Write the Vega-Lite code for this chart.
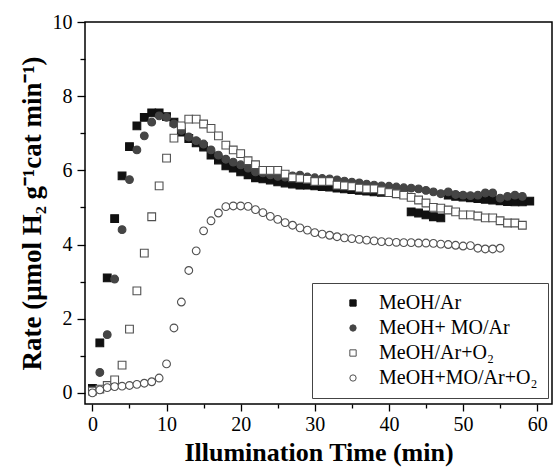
{
  "$schema": "https://vega.github.io/schema/vega-lite/v6.json",
  "width": 467,
  "height": 382,
  "autosize": "none",
  "padding": {"left": 85, "top": 22, "right": 3, "bottom": 64},
  "background": "white",
  "config": {
    "view": {"stroke": "black", "strokeWidth": 1.5},
    "font": "Liberation Serif",
    "axis": {
      "domain": false,
      "grid": false,
      "tickColor": "black",
      "tickWidth": 1.3,
      "labelColor": "black",
      "labelFont": "Liberation Serif",
      "labelFontSize": 20,
      "titleFont": "Liberation Serif",
      "titleFontSize": 26,
      "titleFontWeight": "bold",
      "titleColor": "black"
    },
    "legend": {
      "orient": "none",
      "legendX": 227,
      "legendY": 261,
      "strokeColor": "#444",
      "padding": 10,
      "symbolOffset": 21,
      "labelFont": "Liberation Serif",
      "labelFontSize": 20,
      "labelColor": "black",
      "labelOffset": 16,
      "rowPadding": 5,
      "symbolSize": 40,
      "symbolStrokeWidth": 1,
      "labelLimit": 300
    }
  },
  "data": {
    "values": [
      {"t": 0, "r": 0.12, "s": "MeOH/Ar"}, {"t": 1, "r": 1.35, "s": "MeOH/Ar"}, {"t": 2, "r": 3.1, "s": "MeOH/Ar"}, {"t": 3, "r": 4.7, "s": "MeOH/Ar"}, {"t": 4, "r": 5.85, "s": "MeOH/Ar"}, {"t": 5, "r": 6.64, "s": "MeOH/Ar"}, {"t": 6, "r": 7.2, "s": "MeOH/Ar"}, {"t": 7, "r": 7.43, "s": "MeOH/Ar"}, {"t": 8, "r": 7.55, "s": "MeOH/Ar"}, {"t": 9, "r": 7.55, "s": "MeOH/Ar"}, {"t": 10, "r": 7.45, "s": "MeOH/Ar"}, {"t": 11, "r": 7.3, "s": "MeOH/Ar"}, {"t": 12, "r": 7.03, "s": "MeOH/Ar"}, {"t": 13, "r": 6.86, "s": "MeOH/Ar"}, {"t": 14, "r": 6.74, "s": "MeOH/Ar"}, {"t": 15, "r": 6.63, "s": "MeOH/Ar"}, {"t": 16, "r": 6.41, "s": "MeOH/Ar"}, {"t": 17, "r": 6.28, "s": "MeOH/Ar"}, {"t": 18, "r": 6.12, "s": "MeOH/Ar"}, {"t": 19, "r": 6.06, "s": "MeOH/Ar"}, {"t": 20, "r": 5.96, "s": "MeOH/Ar"}, {"t": 21, "r": 5.88, "s": "MeOH/Ar"}, {"t": 22, "r": 5.8, "s": "MeOH/Ar"}, {"t": 23, "r": 5.77, "s": "MeOH/Ar"}, {"t": 24, "r": 5.74, "s": "MeOH/Ar"}, {"t": 25, "r": 5.69, "s": "MeOH/Ar"}, {"t": 26, "r": 5.66, "s": "MeOH/Ar"}, {"t": 27, "r": 5.63, "s": "MeOH/Ar"}, {"t": 28, "r": 5.6, "s": "MeOH/Ar"}, {"t": 29, "r": 5.6, "s": "MeOH/Ar"}, {"t": 30, "r": 5.58, "s": "MeOH/Ar"}, {"t": 31, "r": 5.56, "s": "MeOH/Ar"}, {"t": 32, "r": 5.55, "s": "MeOH/Ar"}, {"t": 33, "r": 5.52, "s": "MeOH/Ar"}, {"t": 34, "r": 5.5, "s": "MeOH/Ar"}, {"t": 35, "r": 5.48, "s": "MeOH/Ar"}, {"t": 36, "r": 5.46, "s": "MeOH/Ar"}, {"t": 37, "r": 5.44, "s": "MeOH/Ar"}, {"t": 38, "r": 5.42, "s": "MeOH/Ar"}, {"t": 39, "r": 5.41, "s": "MeOH/Ar"}, {"t": 40, "r": 5.4, "s": "MeOH/Ar"}, {"t": 41, "r": 5.38, "s": "MeOH/Ar"}, {"t": 42, "r": 5.36, "s": "MeOH/Ar"}, {"t": 43, "r": 4.88, "s": "MeOH/Ar"}, {"t": 44, "r": 4.85, "s": "MeOH/Ar"}, {"t": 45, "r": 4.8, "s": "MeOH/Ar"}, {"t": 46, "r": 4.75, "s": "MeOH/Ar"}, {"t": 47, "r": 4.72, "s": "MeOH/Ar"}, {"t": 48, "r": 5.33, "s": "MeOH/Ar"}, {"t": 49, "r": 5.3, "s": "MeOH/Ar"}, {"t": 50, "r": 5.28, "s": "MeOH/Ar"}, {"t": 51, "r": 5.26, "s": "MeOH/Ar"}, {"t": 52, "r": 5.24, "s": "MeOH/Ar"}, {"t": 53, "r": 5.22, "s": "MeOH/Ar"}, {"t": 54, "r": 5.2, "s": "MeOH/Ar"}, {"t": 55, "r": 5.18, "s": "MeOH/Ar"}, {"t": 56, "r": 5.16, "s": "MeOH/Ar"}, {"t": 57, "r": 5.15, "s": "MeOH/Ar"}, {"t": 58, "r": 5.15, "s": "MeOH/Ar"}, {"t": 59, "r": 5.17, "s": "MeOH/Ar"},
      {"t": 0, "r": 0.03, "s": "MeOH+ MO/Ar"}, {"t": 1, "r": 0.55, "s": "MeOH+ MO/Ar"}, {"t": 2, "r": 1.57, "s": "MeOH+ MO/Ar"}, {"t": 3, "r": 3.07, "s": "MeOH+ MO/Ar"}, {"t": 4, "r": 4.4, "s": "MeOH+ MO/Ar"}, {"t": 5, "r": 5.75, "s": "MeOH+ MO/Ar"}, {"t": 6, "r": 6.55, "s": "MeOH+ MO/Ar"}, {"t": 7, "r": 6.93, "s": "MeOH+ MO/Ar"}, {"t": 8, "r": 7.3, "s": "MeOH+ MO/Ar"}, {"t": 9, "r": 7.47, "s": "MeOH+ MO/Ar"}, {"t": 10, "r": 7.43, "s": "MeOH+ MO/Ar"}, {"t": 11, "r": 7.25, "s": "MeOH+ MO/Ar"}, {"t": 12, "r": 7.08, "s": "MeOH+ MO/Ar"}, {"t": 13, "r": 6.9, "s": "MeOH+ MO/Ar"}, {"t": 14, "r": 6.8, "s": "MeOH+ MO/Ar"}, {"t": 15, "r": 6.71, "s": "MeOH+ MO/Ar"}, {"t": 16, "r": 6.55, "s": "MeOH+ MO/Ar"}, {"t": 17, "r": 6.41, "s": "MeOH+ MO/Ar"}, {"t": 18, "r": 6.3, "s": "MeOH+ MO/Ar"}, {"t": 19, "r": 6.22, "s": "MeOH+ MO/Ar"}, {"t": 20, "r": 6.15, "s": "MeOH+ MO/Ar"}, {"t": 21, "r": 6.06, "s": "MeOH+ MO/Ar"}, {"t": 22, "r": 5.96, "s": "MeOH+ MO/Ar"}, {"t": 23, "r": 5.93, "s": "MeOH+ MO/Ar"}, {"t": 24, "r": 5.88, "s": "MeOH+ MO/Ar"}, {"t": 25, "r": 5.84, "s": "MeOH+ MO/Ar"}, {"t": 26, "r": 5.82, "s": "MeOH+ MO/Ar"}, {"t": 27, "r": 5.85, "s": "MeOH+ MO/Ar"}, {"t": 28, "r": 5.87, "s": "MeOH+ MO/Ar"}, {"t": 29, "r": 5.82, "s": "MeOH+ MO/Ar"}, {"t": 30, "r": 5.8, "s": "MeOH+ MO/Ar"}, {"t": 31, "r": 5.78, "s": "MeOH+ MO/Ar"}, {"t": 32, "r": 5.77, "s": "MeOH+ MO/Ar"}, {"t": 33, "r": 5.74, "s": "MeOH+ MO/Ar"}, {"t": 34, "r": 5.71, "s": "MeOH+ MO/Ar"}, {"t": 35, "r": 5.68, "s": "MeOH+ MO/Ar"}, {"t": 36, "r": 5.66, "s": "MeOH+ MO/Ar"}, {"t": 37, "r": 5.63, "s": "MeOH+ MO/Ar"}, {"t": 38, "r": 5.6, "s": "MeOH+ MO/Ar"}, {"t": 39, "r": 5.58, "s": "MeOH+ MO/Ar"}, {"t": 40, "r": 5.57, "s": "MeOH+ MO/Ar"}, {"t": 41, "r": 5.55, "s": "MeOH+ MO/Ar"}, {"t": 42, "r": 5.53, "s": "MeOH+ MO/Ar"}, {"t": 43, "r": 5.52, "s": "MeOH+ MO/Ar"}, {"t": 44, "r": 5.5, "s": "MeOH+ MO/Ar"}, {"t": 45, "r": 5.46, "s": "MeOH+ MO/Ar"}, {"t": 46, "r": 5.42, "s": "MeOH+ MO/Ar"}, {"t": 47, "r": 5.37, "s": "MeOH+ MO/Ar"}, {"t": 48, "r": 5.42, "s": "MeOH+ MO/Ar"}, {"t": 49, "r": 5.35, "s": "MeOH+ MO/Ar"}, {"t": 50, "r": 5.33, "s": "MeOH+ MO/Ar"}, {"t": 51, "r": 5.32, "s": "MeOH+ MO/Ar"}, {"t": 52, "r": 5.33, "s": "MeOH+ MO/Ar"}, {"t": 53, "r": 5.39, "s": "MeOH+ MO/Ar"}, {"t": 54, "r": 5.39, "s": "MeOH+ MO/Ar"}, {"t": 55, "r": 5.25, "s": "MeOH+ MO/Ar"}, {"t": 56, "r": 5.3, "s": "MeOH+ MO/Ar"}, {"t": 57, "r": 5.33, "s": "MeOH+ MO/Ar"}, {"t": 58, "r": 5.3, "s": "MeOH+ MO/Ar"},
      {"t": 0, "r": 0.05, "s": "MeOH/Ar+O₂"}, {"t": 1, "r": 0.1, "s": "MeOH/Ar+O₂"}, {"t": 2, "r": 0.2, "s": "MeOH/Ar+O₂"}, {"t": 3, "r": 0.35, "s": "MeOH/Ar+O₂"}, {"t": 4, "r": 0.75, "s": "MeOH/Ar+O₂"}, {"t": 5, "r": 1.72, "s": "MeOH/Ar+O₂"}, {"t": 6, "r": 2.75, "s": "MeOH/Ar+O₂"}, {"t": 7, "r": 3.77, "s": "MeOH/Ar+O₂"}, {"t": 8, "r": 4.75, "s": "MeOH/Ar+O₂"}, {"t": 9, "r": 5.58, "s": "MeOH/Ar+O₂"}, {"t": 10, "r": 6.33, "s": "MeOH/Ar+O₂"}, {"t": 11, "r": 6.87, "s": "MeOH/Ar+O₂"}, {"t": 12, "r": 7.2, "s": "MeOH/Ar+O₂"}, {"t": 13, "r": 7.38, "s": "MeOH/Ar+O₂"}, {"t": 14, "r": 7.38, "s": "MeOH/Ar+O₂"}, {"t": 15, "r": 7.25, "s": "MeOH/Ar+O₂"}, {"t": 16, "r": 7.13, "s": "MeOH/Ar+O₂"}, {"t": 17, "r": 6.93, "s": "MeOH/Ar+O₂"}, {"t": 18, "r": 6.68, "s": "MeOH/Ar+O₂"}, {"t": 19, "r": 6.55, "s": "MeOH/Ar+O₂"}, {"t": 20, "r": 6.45, "s": "MeOH/Ar+O₂"}, {"t": 21, "r": 6.26, "s": "MeOH/Ar+O₂"}, {"t": 22, "r": 6.15, "s": "MeOH/Ar+O₂"}, {"t": 23, "r": 6.0, "s": "MeOH/Ar+O₂"}, {"t": 24, "r": 6.0, "s": "MeOH/Ar+O₂"}, {"t": 25, "r": 6.0, "s": "MeOH/Ar+O₂"}, {"t": 26, "r": 5.9, "s": "MeOH/Ar+O₂"}, {"t": 27, "r": 5.8, "s": "MeOH/Ar+O₂"}, {"t": 28, "r": 5.78, "s": "MeOH/Ar+O₂"}, {"t": 29, "r": 5.76, "s": "MeOH/Ar+O₂"}, {"t": 30, "r": 5.7, "s": "MeOH/Ar+O₂"}, {"t": 31, "r": 5.7, "s": "MeOH/Ar+O₂"}, {"t": 32, "r": 5.7, "s": "MeOH/Ar+O₂"}, {"t": 33, "r": 5.6, "s": "MeOH/Ar+O₂"}, {"t": 34, "r": 5.58, "s": "MeOH/Ar+O₂"}, {"t": 35, "r": 5.56, "s": "MeOH/Ar+O₂"}, {"t": 36, "r": 5.52, "s": "MeOH/Ar+O₂"}, {"t": 37, "r": 5.5, "s": "MeOH/Ar+O₂"}, {"t": 38, "r": 5.5, "s": "MeOH/Ar+O₂"}, {"t": 39, "r": 5.45, "s": "MeOH/Ar+O₂"}, {"t": 40, "r": 5.4, "s": "MeOH/Ar+O₂"}, {"t": 41, "r": 5.37, "s": "MeOH/Ar+O₂"}, {"t": 42, "r": 5.33, "s": "MeOH/Ar+O₂"}, {"t": 43, "r": 5.27, "s": "MeOH/Ar+O₂"}, {"t": 44, "r": 5.2, "s": "MeOH/Ar+O₂"}, {"t": 45, "r": 5.12, "s": "MeOH/Ar+O₂"}, {"t": 46, "r": 5.0, "s": "MeOH/Ar+O₂"}, {"t": 47, "r": 4.98, "s": "MeOH/Ar+O₂"}, {"t": 48, "r": 4.93, "s": "MeOH/Ar+O₂"}, {"t": 49, "r": 4.88, "s": "MeOH/Ar+O₂"}, {"t": 50, "r": 4.8, "s": "MeOH/Ar+O₂"}, {"t": 51, "r": 4.8, "s": "MeOH/Ar+O₂"}, {"t": 52, "r": 4.77, "s": "MeOH/Ar+O₂"}, {"t": 53, "r": 4.72, "s": "MeOH/Ar+O₂"}, {"t": 54, "r": 4.72, "s": "MeOH/Ar+O₂"}, {"t": 55, "r": 4.64, "s": "MeOH/Ar+O₂"}, {"t": 56, "r": 4.58, "s": "MeOH/Ar+O₂"}, {"t": 57, "r": 4.58, "s": "MeOH/Ar+O₂"}, {"t": 58, "r": 4.52, "s": "MeOH/Ar+O₂"},
      {"t": 0, "r": 0.0, "s": "MeOH+MO/Ar+O₂"}, {"t": 1, "r": 0.08, "s": "MeOH+MO/Ar+O₂"}, {"t": 2, "r": 0.14, "s": "MeOH+MO/Ar+O₂"}, {"t": 3, "r": 0.17, "s": "MeOH+MO/Ar+O₂"}, {"t": 4, "r": 0.18, "s": "MeOH+MO/Ar+O₂"}, {"t": 5, "r": 0.2, "s": "MeOH+MO/Ar+O₂"}, {"t": 6, "r": 0.23, "s": "MeOH+MO/Ar+O₂"}, {"t": 7, "r": 0.26, "s": "MeOH+MO/Ar+O₂"}, {"t": 8, "r": 0.3, "s": "MeOH+MO/Ar+O₂"}, {"t": 9, "r": 0.4, "s": "MeOH+MO/Ar+O₂"}, {"t": 10, "r": 0.78, "s": "MeOH+MO/Ar+O₂"}, {"t": 11, "r": 1.75, "s": "MeOH+MO/Ar+O₂"}, {"t": 12, "r": 2.45, "s": "MeOH+MO/Ar+O₂"}, {"t": 13, "r": 3.3, "s": "MeOH+MO/Ar+O₂"}, {"t": 14, "r": 3.83, "s": "MeOH+MO/Ar+O₂"}, {"t": 15, "r": 4.37, "s": "MeOH+MO/Ar+O₂"}, {"t": 16, "r": 4.64, "s": "MeOH+MO/Ar+O₂"}, {"t": 17, "r": 4.85, "s": "MeOH+MO/Ar+O₂"}, {"t": 18, "r": 5.02, "s": "MeOH+MO/Ar+O₂"}, {"t": 19, "r": 5.04, "s": "MeOH+MO/Ar+O₂"}, {"t": 20, "r": 5.04, "s": "MeOH+MO/Ar+O₂"}, {"t": 21, "r": 5.03, "s": "MeOH+MO/Ar+O₂"}, {"t": 22, "r": 4.94, "s": "MeOH+MO/Ar+O₂"}, {"t": 23, "r": 4.86, "s": "MeOH+MO/Ar+O₂"}, {"t": 24, "r": 4.76, "s": "MeOH+MO/Ar+O₂"}, {"t": 25, "r": 4.68, "s": "MeOH+MO/Ar+O₂"}, {"t": 26, "r": 4.59, "s": "MeOH+MO/Ar+O₂"}, {"t": 27, "r": 4.52, "s": "MeOH+MO/Ar+O₂"}, {"t": 28, "r": 4.45, "s": "MeOH+MO/Ar+O₂"}, {"t": 29, "r": 4.39, "s": "MeOH+MO/Ar+O₂"}, {"t": 30, "r": 4.32, "s": "MeOH+MO/Ar+O₂"}, {"t": 31, "r": 4.28, "s": "MeOH+MO/Ar+O₂"}, {"t": 32, "r": 4.25, "s": "MeOH+MO/Ar+O₂"}, {"t": 33, "r": 4.21, "s": "MeOH+MO/Ar+O₂"}, {"t": 34, "r": 4.18, "s": "MeOH+MO/Ar+O₂"}, {"t": 35, "r": 4.16, "s": "MeOH+MO/Ar+O₂"}, {"t": 36, "r": 4.14, "s": "MeOH+MO/Ar+O₂"}, {"t": 37, "r": 4.12, "s": "MeOH+MO/Ar+O₂"}, {"t": 38, "r": 4.1, "s": "MeOH+MO/Ar+O₂"}, {"t": 39, "r": 4.08, "s": "MeOH+MO/Ar+O₂"}, {"t": 40, "r": 4.07, "s": "MeOH+MO/Ar+O₂"}, {"t": 41, "r": 4.06, "s": "MeOH+MO/Ar+O₂"}, {"t": 42, "r": 4.05, "s": "MeOH+MO/Ar+O₂"}, {"t": 43, "r": 4.05, "s": "MeOH+MO/Ar+O₂"}, {"t": 44, "r": 4.04, "s": "MeOH+MO/Ar+O₂"}, {"t": 45, "r": 4.04, "s": "MeOH+MO/Ar+O₂"}, {"t": 46, "r": 4.03, "s": "MeOH+MO/Ar+O₂"}, {"t": 47, "r": 4.01, "s": "MeOH+MO/Ar+O₂"}, {"t": 48, "r": 4.0, "s": "MeOH+MO/Ar+O₂"}, {"t": 49, "r": 3.98, "s": "MeOH+MO/Ar+O₂"}, {"t": 50, "r": 3.96, "s": "MeOH+MO/Ar+O₂"}, {"t": 51, "r": 3.97, "s": "MeOH+MO/Ar+O₂"}, {"t": 52, "r": 3.9, "s": "MeOH+MO/Ar+O₂"}, {"t": 53, "r": 3.88, "s": "MeOH+MO/Ar+O₂"}, {"t": 54, "r": 3.88, "s": "MeOH+MO/Ar+O₂"}, {"t": 55, "r": 3.9, "s": "MeOH+MO/Ar+O₂"}
    ]
  },
  "mark": {"type": "point", "filled": true, "size": 60, "strokeWidth": 1.1, "opacity": 1},
  "encoding": {
    "x": {
      "field": "t", "type": "quantitative",
      "scale": {"domain": [-1, 62], "nice": false, "zero": false},
      "axis": {
        "title": "Illumination Time (min)",
        "values": [0, 5, 10, 15, 20, 25, 30, 35, 40, 45, 50, 55, 60],
        "labelExpr": "datum.value % 10 === 0 ? datum.label : ''",
        "tickSize": {"condition": {"test": "datum.value % 10 === 0", "value": 7}, "value": 4},
        "labelPadding": 3,
        "titlePadding": 5
      }
    },
    "y": {
      "field": "r", "type": "quantitative",
      "scale": {"domain": [-0.3, 10], "nice": false, "zero": false},
      "axis": {
        "title": "Rate (μmol H₂ g⁻¹cat min⁻¹)",
        "titleFontSize": 27,
        "values": [0, 1, 2, 3, 4, 5, 6, 7, 8, 9, 10],
        "labelExpr": "datum.value % 2 === 0 ? datum.label : ''",
        "tickSize": {"condition": {"test": "datum.value % 2 === 0", "value": 8}, "value": 5},
        "labelPadding": 5,
        "titlePadding": 6
      }
    },
    "shape": {
      "field": "s", "type": "nominal", "title": null, "sort": null,
      "scale": {"domain": ["MeOH/Ar", "MeOH+ MO/Ar", "MeOH/Ar+O₂", "MeOH+MO/Ar+O₂"], "range": ["square", "circle", "square", "circle"]}
    },
    "fill": {
      "field": "s", "type": "nominal", "title": null, "sort": null,
      "scale": {"domain": ["MeOH/Ar", "MeOH+ MO/Ar", "MeOH/Ar+O₂", "MeOH+MO/Ar+O₂"], "range": ["#111111", "#454545", "#ffffff", "#ffffff"]}
    },
    "stroke": {
      "field": "s", "type": "nominal", "title": null, "sort": null,
      "scale": {"domain": ["MeOH/Ar", "MeOH+ MO/Ar", "MeOH/Ar+O₂", "MeOH+MO/Ar+O₂"], "range": ["#111111", "#454545", "#505050", "#505050"]}
    }
  }
}
